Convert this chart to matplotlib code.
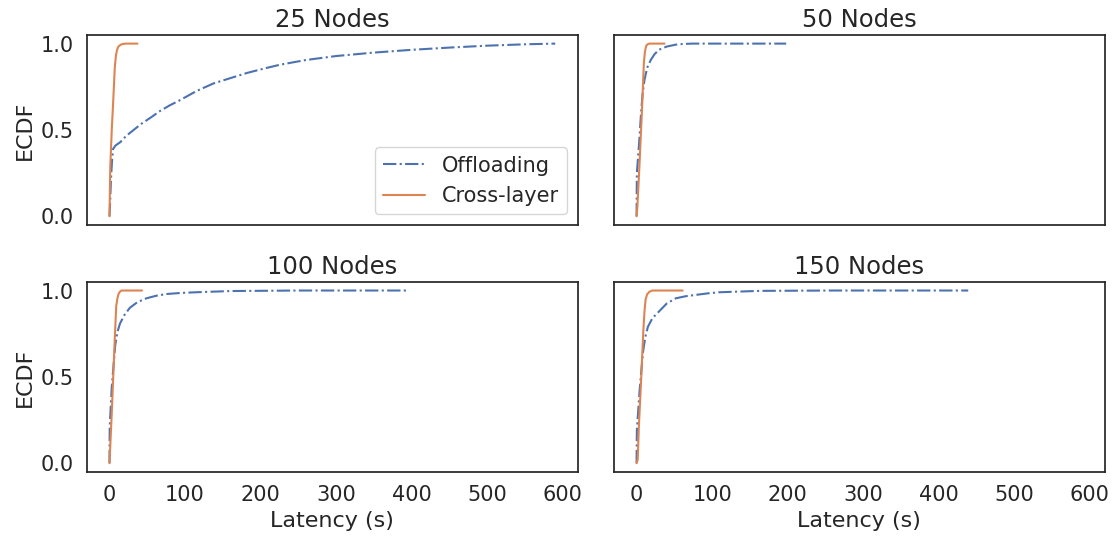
import matplotlib
matplotlib.use("Agg")
import matplotlib.pyplot as plt
import seaborn as sns

# ECDF curves: latency (s) and cumulative fraction
titles = ["25 Nodes", "50 Nodes", "100 Nodes", "150 Nodes"]

off_25_x = [0, 1, 2, 3.5, 4.8, 8, 14.5, 22, 32, 42, 54, 67, 80, 94, 115, 138, 160,
            182, 205, 226, 260, 300, 350, 400, 450, 500, 550, 590]
off_25_y = [0.0, 0.1, 0.22, 0.33, 0.39, 0.41, 0.43, 0.465, 0.50, 0.535, 0.57, 0.61,
            0.643, 0.674, 0.725, 0.77, 0.80, 0.83, 0.856, 0.878, 0.905, 0.928,
            0.948, 0.964, 0.977, 0.988, 0.996, 1.0]
cl_25_x = [0, 1, 3, 4.9, 7, 8.5, 10, 12, 15, 18, 22, 37]
cl_25_y = [0.0, 0.28, 0.5, 0.665, 0.86, 0.93, 0.965, 0.984, 0.994, 0.998, 1.0, 1.0]

off_50_x = [0, 0.4, 3, 6, 8, 10.5, 14, 19, 24, 30, 40, 52, 62, 74, 100, 198]
off_50_y = [0.0, 0.25, 0.40, 0.60, 0.71, 0.79, 0.86, 0.907, 0.94, 0.965, 0.983,
            0.994, 0.998, 1.0, 1.0, 1.0]
cl_50_x = [0, 1, 4, 7, 9.7, 11, 12.5, 14.5, 17, 20, 37]
cl_50_y = [0.0, 0.05, 0.31, 0.60, 0.89, 0.95, 0.985, 0.996, 1.0, 1.0, 1.0]

off_100_x = [0, 0.3, 3, 7.5, 10.5, 14, 20, 27, 37, 49, 62, 76, 95, 115, 160, 250, 393]
off_100_y = [0.0, 0.21, 0.44, 0.68, 0.76, 0.81, 0.86, 0.90, 0.933, 0.955, 0.97,
             0.98, 0.986, 0.99, 0.997, 1.0, 1.0]
cl_100_x = [0, 3, 6.6, 8.9, 10.5, 12, 14, 16, 20, 43]
cl_100_y = [0.0, 0.29, 0.68, 0.91, 0.955, 0.98, 0.994, 1.0, 1.0, 1.0]

off_150_x = [0, 0.4, 4, 8.4, 11.5, 15, 21, 30, 40, 52, 65, 79, 95, 110, 163, 260, 439]
off_150_y = [0.0, 0.19, 0.42, 0.64, 0.73, 0.79, 0.84, 0.88, 0.925, 0.955, 0.967,
             0.975, 0.984, 0.99, 0.998, 1.0, 1.0]
cl_150_x = [0, 1.5, 3, 6, 9, 10.5, 12, 14, 17, 21, 61]
cl_150_y = [0.0, 0.02, 0.21, 0.48, 0.77, 0.88, 0.95, 0.978, 0.993, 1.0, 1.0]

offloading = [(off_25_x, off_25_y), (off_50_x, off_50_y),
              (off_100_x, off_100_y), (off_150_x, off_150_y)]
cross_layer = [(cl_25_x, cl_25_y), (cl_50_x, cl_50_y),
               (cl_100_x, cl_100_y), (cl_150_x, cl_150_y)]

sns.set_theme(style="white", font_scale=1.5)
plt.rcParams["xtick.labelsize"] = 15
plt.rcParams["ytick.labelsize"] = 15
plt.rcParams["axes.labelsize"] = 16
plt.rcParams["axes.titlesize"] = 17.5
plt.rcParams["legend.fontsize"] = 15
colors = sns.color_palette("deep")

fig, axes = plt.subplots(2, 2, figsize=(11.18, 5.38), dpi=100,
                         sharex=True, sharey=True)
fig.subplots_adjust(left=0.078, right=0.988, top=0.935, bottom=0.123,
                    wspace=0.075, hspace=0.30)

for i, ax in enumerate(axes.flat):
    ox, oy = offloading[i]
    cx, cy = cross_layer[i]
    ax.plot(ox, oy, "-.", color=colors[0], lw=1.5, label="Offloading")
    ax.plot(cx, cy, "-", color=colors[1], lw=1.5, label="Cross-layer")
    ax.set_title(titles[i])
    ax.set_xlim(-29.5, 619.5)
    ax.set_ylim(-0.05, 1.05)
    ax.set_yticks([0.0, 0.5, 1.0])
    ax.set_xticks([0, 100, 200, 300, 400, 500, 600])

axes[0, 0].legend(loc="lower right")
axes[0, 0].set_ylabel("ECDF")
axes[1, 0].set_ylabel("ECDF")
axes[1, 0].set_xlabel("Latency (s)")
axes[1, 1].set_xlabel("Latency (s)")

plt.savefig("out.png", dpi=100)
